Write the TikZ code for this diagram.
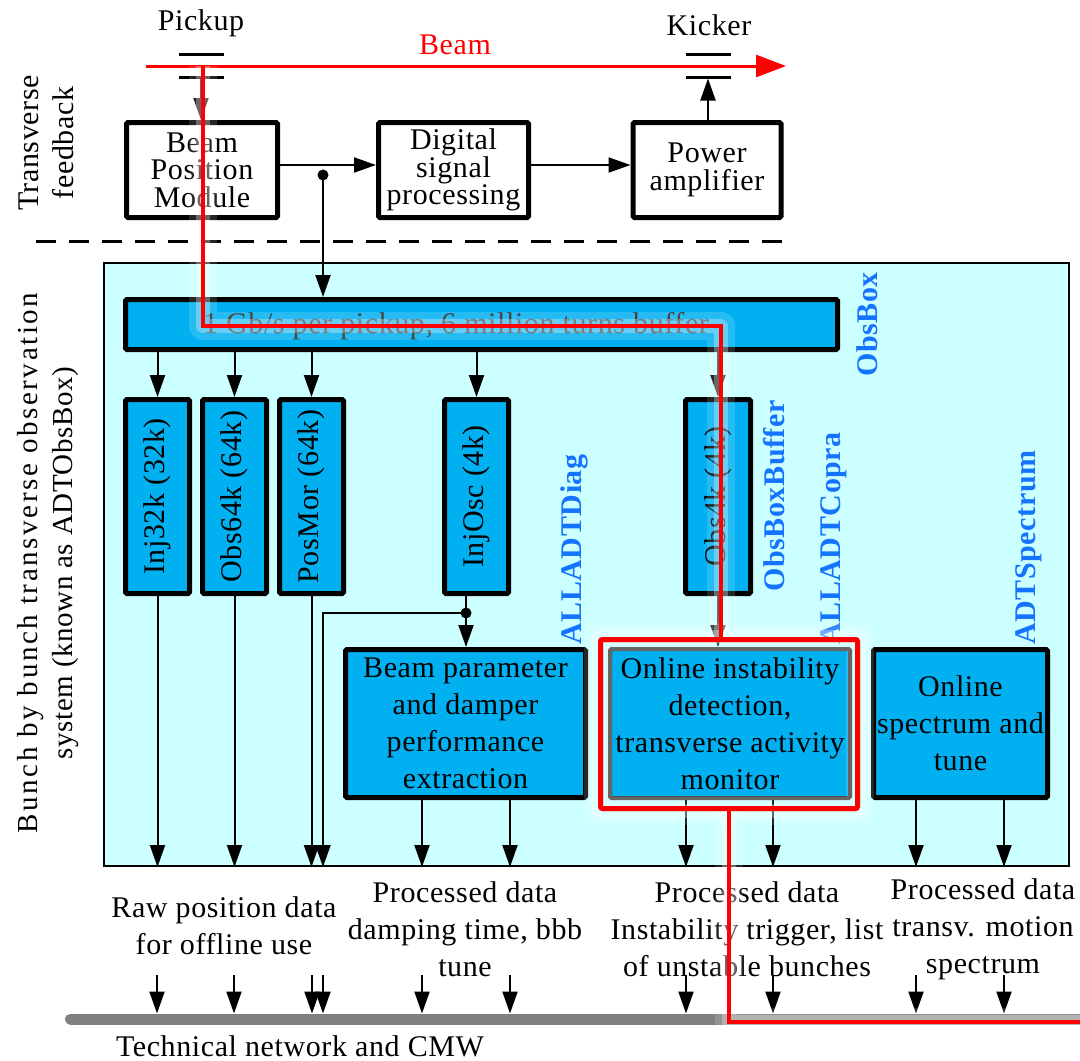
\documentclass[tikz,border=0pt]{standalone}
\usepackage{fontspec}
\setmainfont{Liberation Serif}[LetterSpace=2]
\usetikzlibrary{arrows.meta}
\definecolor{cyanbg}{HTML}{CCFFFF}
\definecolor{boxblue}{HTML}{00B0F0}
\definecolor{lblblue}{RGB}{20,115,255}
\definecolor{netgray}{HTML}{808080}
\newcommand\myfs{\fontsize{30}{37}\selectfont}
\newcommand\mytopfs{\fontsize{30}{27.5}\selectfont}
\begin{document}
\begin{tikzpicture}[x=1pt,y=-1pt,
  every node/.style={font=\myfs, inner sep=0pt},
  topbox/.style={draw, line width=5pt, fill=white, align=center, minimum height=95pt, font=\mytopfs, rounded corners=1.5pt},
  bluebox/.style={draw, line width=5pt, fill=boxblue, align=center, rounded corners=1.5pt},
  vbox/.style={bluebox, minimum width=64pt, minimum height=194pt},
  conn/.style={line width=2pt},
  arr/.style={conn, -{Triangle[length=22pt,width=15pt]}},
  plate/.style={fill=black, minimum width=45pt, minimum height=3pt, outer sep=0pt},
  lbl/.style={text=lblblue, font=\myfs\bfseries, rotate=90, anchor=west},
  redln/.style={draw=red, line width=4pt},
  glowA/.style={draw=white, opacity=0.15, line width=28pt, line join=round},
  glowB/.style={draw=white, opacity=0.3, line width=14pt, line join=round}
]
\useasboundingbox (0,0) rectangle (1080,1061);

% ---------- background system box ----------
\node[draw, line width=2pt, fill=cyanbg, minimum width=965pt, minimum height=603pt] (sys) at (586.5,564.5) {};

% ---------- left labels ----------
\node[rotate=90, align=center, font=\fontsize{30}{35}\selectfont] (ltf) at (46,143) {Transverse\\feedback};
\node[rotate=90, align=center, font=\fontsize{29}{35}\selectfont] (lsys) at (48,563)
  {{\addfontfeature{LetterSpace=9}Bunch by bunch transverse observation}\\system (known as ADTObsBox)};

% ---------- beam, pickup, kicker ----------
\node (pickup) at (201,23) {Pickup};
\node (kicker) at (709,25) {Kicker};
\node[text=red] (beamlbl) at (455,45) {Beam};
\node[plate] (pp1) at (201,54) {};
\node[plate] (pp2) at (201,77) {};
\node[plate] (kp1) at (708,54) {};
\node[plate] (kp2) at (708,77) {};
\coordinate (bs) at (146,66);
\coordinate (be) at (786,66);
\draw[line width=3pt, draw=red, -{Triangle[length=30pt,width=22pt]}] (bs) -- (be);

% ---------- feedback chain ----------
\node[topbox, minimum width=151pt] (bpm) at (202,170) {Beam\\Position\\Module};
\node[topbox, minimum width=150pt] (dsp) at (453.5,170) {Digital\\signal\\processing};
\node[topbox, minimum width=148pt] (pa) at (707,170) {Power\\amplifier};
\draw[arr] (pp2.south) -- (pp2.south |- bpm.north);
\draw[arr] (pa.north -| kp2) -- (kp2.south);
\draw[arr] ([yshift=5pt]bpm.east) -- ([yshift=5pt]dsp.west);
\draw[arr] ([yshift=5pt]dsp.east) -- ([yshift=5pt]pa.west);
\coordinate (j1) at (323,175);
\fill (j1) circle (5.5pt);

\coordinate (dl) at (36,241);
\coordinate (dr) at (791,241);
\draw[line width=3pt, dash pattern=on 20pt off 13pt] (dl) -- (dr);

% ---------- ObsBox ----------
\node[bluebox, minimum width=712pt, minimum height=50pt] (bar) at (481.5,324.5) {};
\node[text=black!85] (bartxt) at (456,326) {1 Gb/s per pickup, 6 million turns buffer};
\draw[arr] (j1) -- (j1 |- bar.north);

\node[vbox] (inj) at (157.5,496.5) {\rotatebox{90}{Inj32k (32k)}};
\node[vbox] (obs) at (234.5,496.5) {\rotatebox{90}{Obs64k (64k)}};
\node[vbox] (pos) at (311.5,496.5) {\rotatebox{90}{PosMor (64k)}};
\node[vbox] (osc) at (476.5,496.5) {\rotatebox{90}{InjOsc (4k)}};
\node[vbox, minimum width=65pt] (o4k) at (718,496.5) {\rotatebox{90}{Obs4k (4k)}};
\foreach \n in {inj,obs,pos,osc,o4k} {\draw[arr] (bar.south -| \n) -- (\n.north);}

\node[lbl] (tobs) at (867,377) {ObsBox};
\node[lbl] (tbuf) at (774,592) {ObsBoxBuffer};
\node[lbl] (tdiag) at (574,645) {ALLADTDiag};
\node[lbl] (tcop) at (834,645) {ALLADTCopra};
\node[lbl] (tspe) at (1029,645) {ADTSpectrum};

% ---------- processing boxes ----------
\node[bluebox, minimum width=240pt, minimum height=148pt] (bpe) at (465.5,723.5) {Beam parameter\\and damper\\performance\\extraction};
\node[bluebox, draw=black!70, line width=4pt, minimum width=240pt, minimum height=149pt] (oid) at (730,723.5) {Online instability\\detection,\\transverse activity\\monitor};
\node[bluebox, minimum width=174pt, minimum height=148pt] (osp) at (960.5,723.5) {Online\\spectrum and\\tune};
\node[draw=red, line width=5pt, minimum width=257pt, minimum height=169pt, rounded corners=2pt] (frm) at (729,724) {};

\foreach \n in {inj,obs,pos} {\draw[arr] (\n.south) -- (\n.south |- sys.south);}
\coordinate (j2) at (466,613);
\coordinate (j3) at (323,613);
\draw[conn] (j2 |- osc.south) -- (j2);
\fill (j2) circle (5.5pt);
\draw[arr] (j2) -- (j2 |- bpe.north);
\draw[arr] (j2) -- (j3) -- (j3 |- sys.south);
\draw[arr] (o4k.south) -- (o4k.south |- oid.north);
\foreach \xx in {422,510} {\draw[arr] (bpe.south -| \xx,0) -- (sys.south -| \xx,0);}
\foreach \xx in {686,773} {\draw[arr] (oid.south -| \xx,0) -- (sys.south -| \xx,0);}
\foreach \xx in {916,1004} {\draw[arr] (osp.south -| \xx,0) -- (sys.south -| \xx,0);}

% ---------- output labels ----------
\node[align=center] (lraw) at (224,926) {Raw position data\\for offline use};
\node[align=center] (lbpe) at (465,929) {Processed data\\damping time, bbb\\tune};
\node[align=center] (loid) at (747,929) {Processed data\\Instability trigger, list\\of unstable bunches};
\node[align=center] (losp) at (983,929) {Processed data\\transv. motion\\spectrum};

% ---------- technical network ----------
\coordinate (netL) at (70.5,1019);
\coordinate (netR) at (1085,1019);
\draw[line width=11pt, draw=netgray, line cap=round] (netL) -- (netR);
\node (lnet) at (300,1046) {Technical network and CMW};
\foreach \xx [count=\i] in {157,234,312,323,422,510,686,773,916,1004} {
  \coordinate (t\i) at (\xx,975);
  \draw[arr] (t\i) -- (t\i |- 0,1013.5);
}

% ---------- highlighted data path ----------
\coordinate (r0) at (203,66);
\coordinate (r1) at (203,326);
\coordinate (r2) at (721,326);
\coordinate (r4) at (729,1022);
\coordinate (r5) at (1080,1022);
\foreach \g in {glowA,glowB} {
  \draw[\g] (r0) -- (r1) -- (r2) -- (r2 |- frm.north);
  \draw[\g] (frm.north west) rectangle (frm.south east);
  \draw[\g] (r4 |- frm.south) -- (r4) -- (r5);
}
\draw[redln] (r0) -- (r1) -- (r2) -- (r2 |- frm.north);
\node[draw=red, line width=5pt, minimum width=257pt, minimum height=169pt, rounded corners=2pt] (frm2) at (frm) {};
\draw[redln] (r4 |- frm.south) -- (r4) -- (r5);
\end{tikzpicture}
\end{document}
